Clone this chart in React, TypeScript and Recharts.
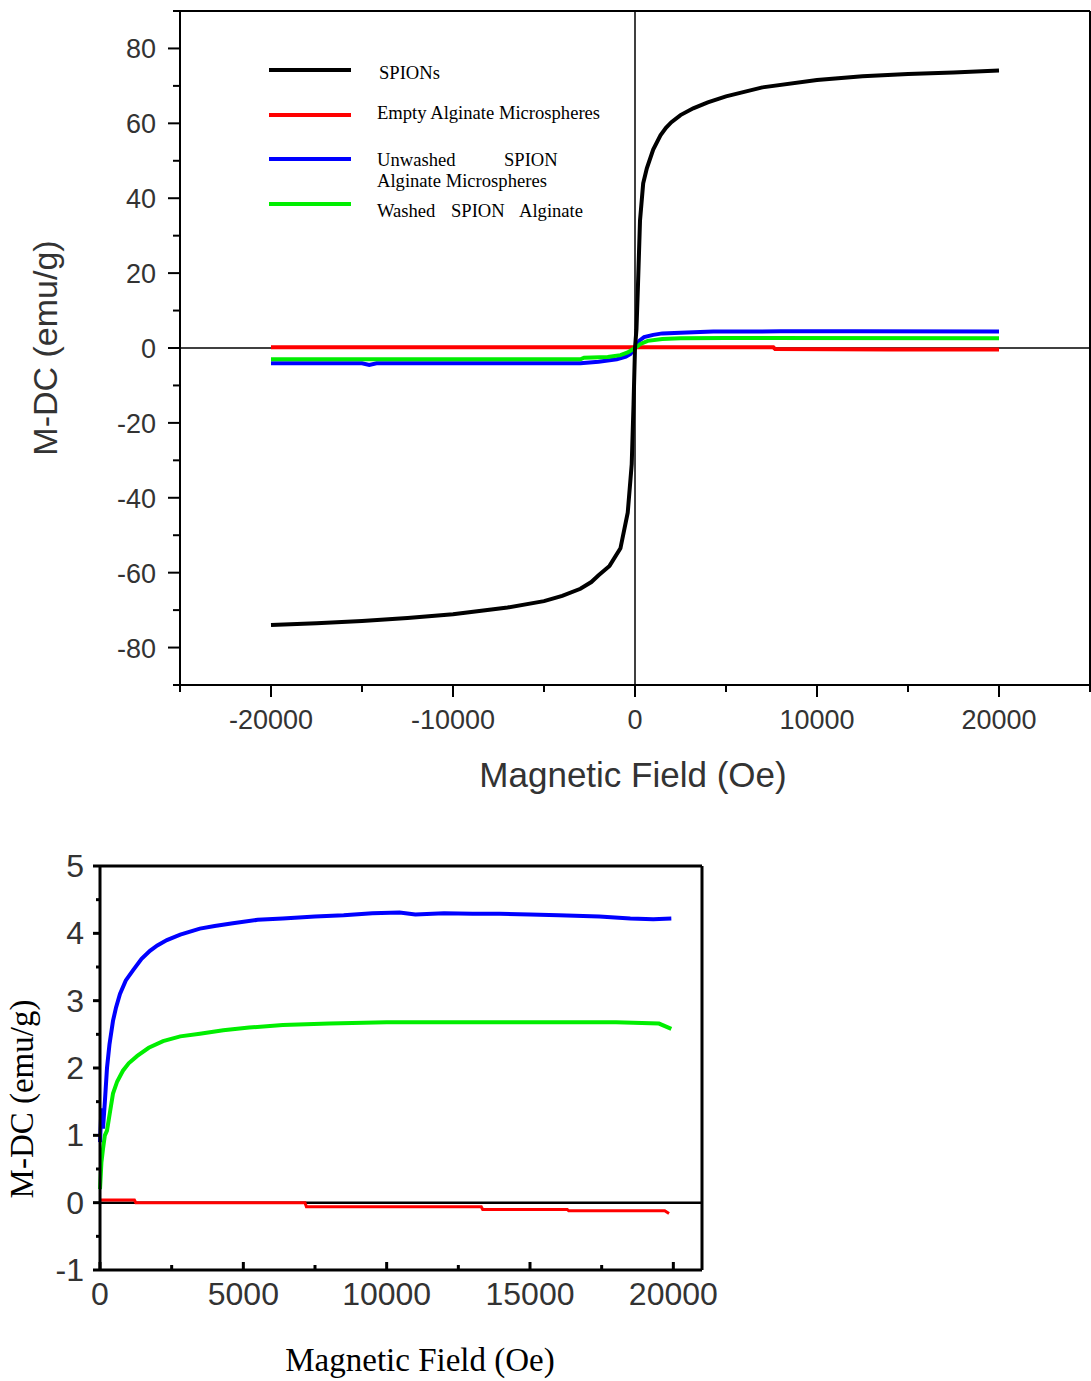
import React from 'react';
import { LineChart, Line, XAxis, YAxis, ReferenceLine } from 'recharts';

// ---- main plot (full loop, -20000..20000 Oe) ----
const spionField = [-20000, -17500, -15000, -12500, -10000, -7000, -5000, -4000, -3000, -2400, -2000, -1400, -800, -400, -180, -80, 0, 80, 165, 275, 450, 650, 1000, 1400, 1700, 2000, 2500, 3200, 4000, 5000, 7000, 10000, 12500, 15000, 17500, 20000];
const spionMoment = [-74, -73.5, -72.9, -72.1, -71.1, -69.3, -67.6, -66.2, -64.3, -62.5, -60.7, -58.2, -53.5, -44, -31, -15, 0, 5, 17, 34, 44, 48, 53, 56.8, 58.8, 60.3, 62.2, 64, 65.6, 67.2, 69.6, 71.6, 72.6, 73.2, 73.6, 74.1];

const emptyField = [-20000, -10000, 0, 7600, 7700, 14000, 20000];
const emptyMoment = [0.2, 0.2, 0.2, 0.2, -0.3, -0.4, -0.4];

const unwashedField = [-20000, -15000, -14600, -14200, -3000, -2000, -1000, -500, -250, 0, 250, 500, 1000, 1500, 2500, 4300, 8000, 12000, 20000];
const unwashedMoment = [-4.1, -4.1, -4.5, -4.1, -4.1, -3.7, -3.0, -2.3, -1.6, 0, 2.0, 2.9, 3.5, 3.9, 4.1, 4.4, 4.45, 4.45, 4.4];

const washedField = [-20000, -3000, -2800, -1500, -800, -400, 0, 300, 700, 1500, 2500, 5000, 20000];
const washedMoment = [-3.0, -3.0, -2.6, -2.4, -1.9, -1.2, 0, 1.1, 1.9, 2.4, 2.6, 2.7, 2.6];

const topXTicks = [-25000, -20000, -15000, -10000, -5000, 0, 5000, 10000, 15000, 20000, 25000];
const topYTicks = [-90, -80, -70, -60, -50, -40, -30, -20, -10, 0, 10, 20, 30, 40, 50, 60, 70, 80, 90];

// ---- inset (positive branch, 0..20000 Oe) ----
const insetBlueField = [0, 50, 105, 170, 244, 330, 453, 560, 697, 900, 1150, 1450, 1742, 2000, 2334, 2800, 3484, 4000, 4634, 5500, 6376, 7500, 8500, 9500, 10450, 11000, 12000, 13000, 13940, 15000, 16000, 17420, 18500, 19300, 19930];
const insetBlueMoment = [0.9, 1.4, 1.1, 1.5, 2.0, 2.35, 2.7, 2.9, 3.1, 3.3, 3.45, 3.62, 3.74, 3.82, 3.9, 3.98, 4.07, 4.11, 4.15, 4.2, 4.22, 4.25, 4.27, 4.3, 4.31, 4.28, 4.3, 4.29, 4.29, 4.28, 4.27, 4.25, 4.22, 4.21, 4.22];

const insetGreenField = [0, 50, 105, 170, 244, 350, 453, 600, 800, 1000, 1300, 1700, 2200, 2800, 3484, 4300, 5200, 6376, 8000, 10000, 12000, 14000, 16000, 18000, 19500, 19930];
const insetGreenMoment = [0.2, 0.6, 0.8, 1.0, 1.07, 1.35, 1.62, 1.8, 1.96, 2.07, 2.18, 2.3, 2.4, 2.47, 2.51, 2.56, 2.6, 2.64, 2.66, 2.68, 2.68, 2.68, 2.68, 2.68, 2.66, 2.58];

const insetRedField = [0, 1200, 1250, 7150, 7200, 13300, 13350, 15400, 15600, 16300, 16350, 19700, 19850];
const insetRedMoment = [0.04, 0.04, 0, 0, -0.06, -0.06, -0.1, -0.1, -0.1, -0.1, -0.12, -0.12, -0.16];

const insetXTicks = [0, 2500, 5000, 7500, 10000, 12500, 15000, 17500, 20000];
const insetYTicks = [-1, -0.5, 0, 0.5, 1, 1.5, 2, 2.5, 3, 3.5, 4, 4.5, 5];

const toPoints = (h: number[], m: number[]) => h.map((v, i) => ({ h: v, m: m[i] }));

const SANS = '"Liberation Sans", Arial, sans-serif';
const SERIF = '"Liberation Serif", "Times New Roman", serif';

const TopXTick = (props: any) => {
  const { x, y, payload } = props;
  const v = payload.value;
  const major = v % 10000 === 0;
  return (
    <g>
      <line x1={x} x2={x} y1={y} y2={y + (major ? 12 : 7)} stroke="#000" strokeWidth={2} />
      {major && Math.abs(v) <= 20000 && (
        <text x={x} y={y + 44} textAnchor="middle" fontSize={27} fill="#333" fontFamily={SANS}>
          {v}
        </text>
      )}
    </g>
  );
};

const TopYTick = (props: any) => {
  const { x, y, payload } = props;
  const v = payload.value;
  const major = v % 20 === 0;
  return (
    <g>
      <line x1={x - (major ? 12 : 7)} x2={x} y1={y} y2={y} stroke="#000" strokeWidth={2} />
      {major && Math.abs(v) <= 80 && (
        <text x={x - 24} y={y + 10} textAnchor="end" fontSize={27} fill="#333" fontFamily={SANS}>
          {v}
        </text>
      )}
    </g>
  );
};

const InsetXTick = (props: any) => {
  const { x, y, payload } = props;
  const v = payload.value;
  const major = v % 5000 === 0;
  return (
    <g>
      <line x1={x} x2={x} y1={y} y2={y - (major ? 8 : 5)} stroke="#000" strokeWidth={3} />
      {major && (
        <text x={x} y={y + 35} textAnchor="middle" fontSize={32} fill="#333" fontFamily={SANS}>
          {v}
        </text>
      )}
    </g>
  );
};

const InsetYTick = (props: any) => {
  const { x, y, payload } = props;
  const v = payload.value;
  const major = Number.isInteger(v);
  return (
    <g>
      <line x1={x - (major ? 7 : 4)} x2={x} y1={y} y2={y} stroke="#000" strokeWidth={3} />
      {major && (
        <text x={x - 16} y={y + 11} textAnchor="end" fontSize={32} fill="#333" fontFamily={SANS}>
          {v}
        </text>
      )}
    </g>
  );
};

const AxisTitle = ({ tx, ty, rotate, text, size, font, color }: any) => (
  <text
    x={tx}
    y={ty}
    transform={rotate ? `rotate(-90 ${tx} ${ty})` : undefined}
    textAnchor="middle"
    fontSize={size}
    fontFamily={font}
    fill={color}
  >
    {text}
  </text>
);

const legendRows = [
  { color: '#000000', y: 70 },
  { color: '#ff0000', y: 115 },
  { color: '#0000ff', y: 159 },
  { color: '#00ee00', y: 204 },
];

const Legend = () => (
  <svg width={700} height={240} style={{ position: 'absolute', left: 0, top: 0 }}>
    {legendRows.map((r) => (
      <line key={r.y} x1={269} x2={351} y1={r.y} y2={r.y} stroke={r.color} strokeWidth={4} />
    ))}
    <g fontFamily={SERIF} fontSize={18.6} fill="#000">
      <text x={379} y={79}>SPIONs</text>
      <text x={377} y={119}>Empty Alginate Microspheres</text>
      <text x={377} y={166}>Unwashed</text>
      <text x={504} y={166}>SPION</text>
      <text x={377} y={187}>Alginate Microspheres</text>
      <text x={377} y={217}>Washed</text>
      <text x={451} y={217}>SPION</text>
      <text x={519} y={217}>Alginate</text>
    </g>
  </svg>
);

export default function App() {
  return (
    <div style={{ position: 'absolute', left: 0, top: 0, width: 1091, height: 1381, background: '#fff' }}>
      <div style={{ position: 'absolute', left: 0, top: 0 }}>
        <LineChart width={1091} height={800} margin={{ top: 11, right: 1, bottom: 0, left: 0 }}>
          <XAxis
            type="number"
            dataKey="h"
            domain={[-25000, 25000]}
            ticks={topXTicks}
            interval={0}
            height={115}
            tickSize={0}
            tickMargin={0}
            tickLine={false}
            tick={<TopXTick />}
            axisLine={{ stroke: '#000', strokeWidth: 2 }}
            label={<AxisTitle tx={633} ty={787} text="Magnetic Field (Oe)" size={35} font={SANS} color="#333" />}
          />
          <YAxis
            type="number"
            dataKey="m"
            domain={[-90, 90]}
            ticks={topYTicks}
            interval={0}
            width={180}
            tickSize={0}
            tickMargin={0}
            tickLine={false}
            tick={<TopYTick />}
            axisLine={{ stroke: '#000', strokeWidth: 2 }}
            label={<AxisTitle tx={57} ty={348} rotate text="M-DC (emu/g)" size={34} font={SANS} color="#333" />}
          />
          <ReferenceLine y={90} stroke="#000" strokeWidth={2} />
          <ReferenceLine x={25000} stroke="#000" strokeWidth={2} />
          <ReferenceLine y={0} stroke="#000" strokeWidth={1.5} />
          <ReferenceLine x={0} stroke="#000" strokeWidth={1.5} />
          <Line data={toPoints(emptyField, emptyMoment)} dataKey="m" stroke="#ff0000" strokeWidth={4} dot={false} isAnimationActive={false} />
          <Line data={toPoints(unwashedField, unwashedMoment)} dataKey="m" stroke="#0000ff" strokeWidth={4} dot={false} isAnimationActive={false} />
          <Line data={toPoints(washedField, washedMoment)} dataKey="m" stroke="#00ee00" strokeWidth={4} dot={false} isAnimationActive={false} />
          <Line data={toPoints(spionField, spionMoment)} dataKey="m" stroke="#000000" strokeWidth={4} dot={false} isAnimationActive={false} />
        </LineChart>
        <Legend />
      </div>

      <div style={{ position: 'absolute', left: 0, top: 840 }}>
        <LineChart width={720} height={541} margin={{ top: 26, right: 18, bottom: 0, left: 0 }}>
          <XAxis
            type="number"
            dataKey="h"
            domain={[0, 21000]}
            ticks={insetXTicks}
            interval={0}
            height={111}
            tickSize={0}
            tickMargin={0}
            tickLine={false}
            tick={<InsetXTick />}
            axisLine={{ stroke: '#000', strokeWidth: 3 }}
            label={<AxisTitle tx={420} ty={531} text="Magnetic Field (Oe)" size={33} font={SERIF} color="#000" />}
          />
          <YAxis
            type="number"
            dataKey="m"
            domain={[-1, 5]}
            ticks={insetYTicks}
            interval={0}
            width={100}
            tickSize={0}
            tickMargin={0}
            tickLine={false}
            tick={<InsetYTick />}
            axisLine={{ stroke: '#000', strokeWidth: 3 }}
            label={<AxisTitle tx={33} ty={259} rotate text="M-DC (emu/g)" size={33} font={SERIF} color="#000" />}
          />
          <ReferenceLine y={5} stroke="#000" strokeWidth={3} />
          <ReferenceLine x={21000} stroke="#000" strokeWidth={3} />
          <ReferenceLine y={0} stroke="#000" strokeWidth={2.5} />
          <Line data={toPoints(insetRedField, insetRedMoment)} dataKey="m" stroke="#ff0000" strokeWidth={3} dot={false} isAnimationActive={false} />
          <Line data={toPoints(insetGreenField, insetGreenMoment)} dataKey="m" stroke="#00ee00" strokeWidth={4} dot={false} isAnimationActive={false} />
          <Line data={toPoints(insetBlueField, insetBlueMoment)} dataKey="m" stroke="#0000ff" strokeWidth={4} dot={false} isAnimationActive={false} />
        </LineChart>
      </div>
    </div>
  );
}
